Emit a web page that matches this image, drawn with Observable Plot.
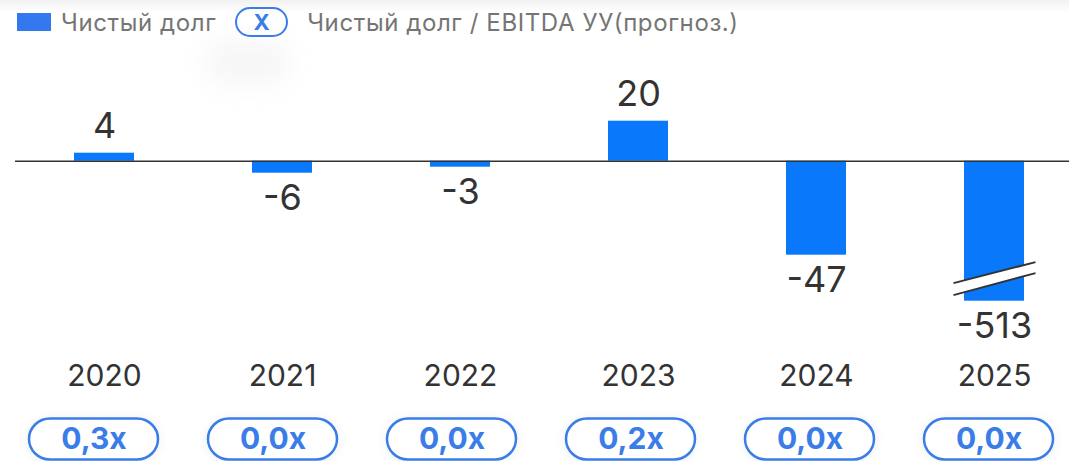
<!DOCTYPE html>
<html>
<head>
<meta charset="utf-8">
<script src="https://cdn.jsdelivr.net/npm/d3@7"></script>
<script src="https://cdn.jsdelivr.net/npm/@observablehq/plot@0.6"></script>
<style>
  html, body { margin: 0; padding: 0; background: #fff; width: 1069px; height: 461px; overflow: hidden; }
  body { position: relative; font-family: Inter, "Noto Sans", sans-serif; }
  #topshade { position: absolute; left: 0; top: 0; width: 1069px; height: 12px;
    background: linear-gradient(#f1f1f1, rgba(255,255,255,0)); }
  #blob { position: absolute; left: 205px; top: 40px; width: 85px; height: 45px; background: #f0f0f0;
    filter: blur(14px); border-radius: 25px; opacity: 0.6; }
  #legend { position: absolute; left: 17px; top: 7px; height: 30px; display: flex; align-items: center;
    font-size: 24px; letter-spacing: 0.6px; color: #757575; white-space: nowrap; }
  #legend .sw { display: inline-block; width: 34px; height: 18px; background: #3478f0; }
  #legend .t1 { margin-left: 10px; }
  #legend .pill { margin-left: 19px; box-sizing: border-box; width: 53px; height: 30px; border: 2.5px solid #3a7de9;
    border-radius: 15px; color: #3a7de9; font-weight: 700; font-size: 22px; letter-spacing: 0; display: flex; align-items: center; justify-content: center; }
  #legend .t2 { margin-left: 19px; }
  #main { position: absolute; left: 0; top: 0; }
  #pills { position: absolute; left: 0; top: 400px; }
  .pills rect { filter: drop-shadow(0 1px 5px rgba(0,0,0,0.07)); }
</style>
</head>
<body>
<div id="topshade"></div>
<div id="blob"></div>
<div id="main"></div>
<div id="pills"></div>
<div id="legend">
  <span class="sw"></span><span class="t1">Чистый долг</span>
  <span class="pill">X</span>
  <span class="t2">Чистый долг / EBITDA УУ(прогноз.)</span>
</div>
<script>
// ---- data ----
const years = ["2020", "2021", "2022", "2023", "2024", "2025"];
const netDebt = [4, -6, -3, 20, -47, -513];          // Чистый долг
const debtToEbitda = [0.3, 0.0, 0.0, 0.2, 0.0, 0.0]; // Чистый долг / EBITDA УУ (прогноз.)
const axisBreakAt = -70;                             // bars beyond this are drawn broken

const rows = years.map((year, i) => ({
  year,
  value: netDebt[i],
  shown: Math.max(netDebt[i], axisBreakAt),
  ratio: debtToEbitda[i]
}));

const barColor = "#0a78fa";
const pillColor = "#3a7de9";
const ink = "#333333";
const fmtRatio = v => v.toFixed(1).replace(".", ",") + "x";

// axis-break decoration drawn from the scales
function breakMark(index, scales) {
  const x = scales.x, y = scales.y;
  const bw = typeof x.bandwidth === "function" ? x.bandwidth() : x.bandwidth;
  const broken = rows.filter(d => d.value < axisBreakAt);
  const g = d3.create("svg:g");
  for (const d of broken) {
    const cx = x(d.year) + bw / 2;
    const xl = cx - 40.5, xr = cx + 41.5;
    const top = [[xl, y(-61.2)], [xr, y(-50.7)]];
    const bot = [[xl, y(-67.2)], [xr, y(-56.2)]];
    g.append("path")
      .attr("d", `M${top[0]}L${top[1]}L${bot[1]}L${bot[0]}Z`)
      .attr("fill", "#fff");
    for (const seg of [top, bot]) {
      g.append("line")
        .attr("x1", seg[0][0]).attr("y1", seg[0][1])
        .attr("x2", seg[1][0]).attr("y2", seg[1][1])
        .attr("stroke", ink).attr("stroke-width", 2);
    }
  }
  return g.node();
}

const main = Plot.plot({
  width: 1069,
  height: 400,
  marginLeft: 15,
  marginRight: 0,
  marginTop: 0,
  marginBottom: 50,
  style: { fontFamily: "Inter, 'Noto Sans', sans-serif", background: "transparent", overflow: "visible" },
  x: { domain: years, range: [74, 1024], paddingInner: 0.663, paddingOuter: 0, axis: null },
  y: { domain: [-70, 20], range: [300.7, 120.7], axis: null },
  marks: [
    Plot.barY(rows, { x: "year", y: "shown", fill: barColor, inset: 0 }),
    breakMark,
    Plot.ruleY([0], { stroke: ink, strokeWidth: 1.6 }),
    Plot.text(rows.filter(d => d.value >= 0), {
      x: "year", y: "shown", text: d => String(d.value),
      lineAnchor: "bottom", dy: -15.5, fontSize: 36, fill: ink
    }),
    Plot.text(rows.filter(d => d.value < 0), {
      x: "year", y: "shown", text: d => String(d.value),
      lineAnchor: "top", dy: 11, fontSize: 36, fill: ink
    }),
    Plot.axisX({ tickSize: 0, tickPadding: 13.7, fontSize: 30, color: ink, label: null })
  ]
});
document.getElementById("main").append(main);

const pills = Plot.plot({
  className: "pills",
  width: 1069,
  height: 61,
  marginLeft: 0,
  marginRight: 0,
  marginTop: 18.5,
  marginBottom: 1.5,
  style: { fontFamily: "Inter, 'Noto Sans', sans-serif", background: "transparent", overflow: "visible" },
  x: { domain: years, range: [28, 1054], paddingInner: 0.281, paddingOuter: 0, axis: null },
  marks: [
    Plot.cell(rows, { x: "year", fill: "#fff", stroke: pillColor, strokeWidth: 2.5, rx: 21, inset: 0 }),
    Plot.text(rows, {
      x: "year", text: d => fmtRatio(d.ratio), frameAnchor: "middle",
      fontSize: 30, fontWeight: 700, fill: pillColor
    })
  ]
});
document.getElementById("pills").append(pills);
</script>
</body>
</html>
